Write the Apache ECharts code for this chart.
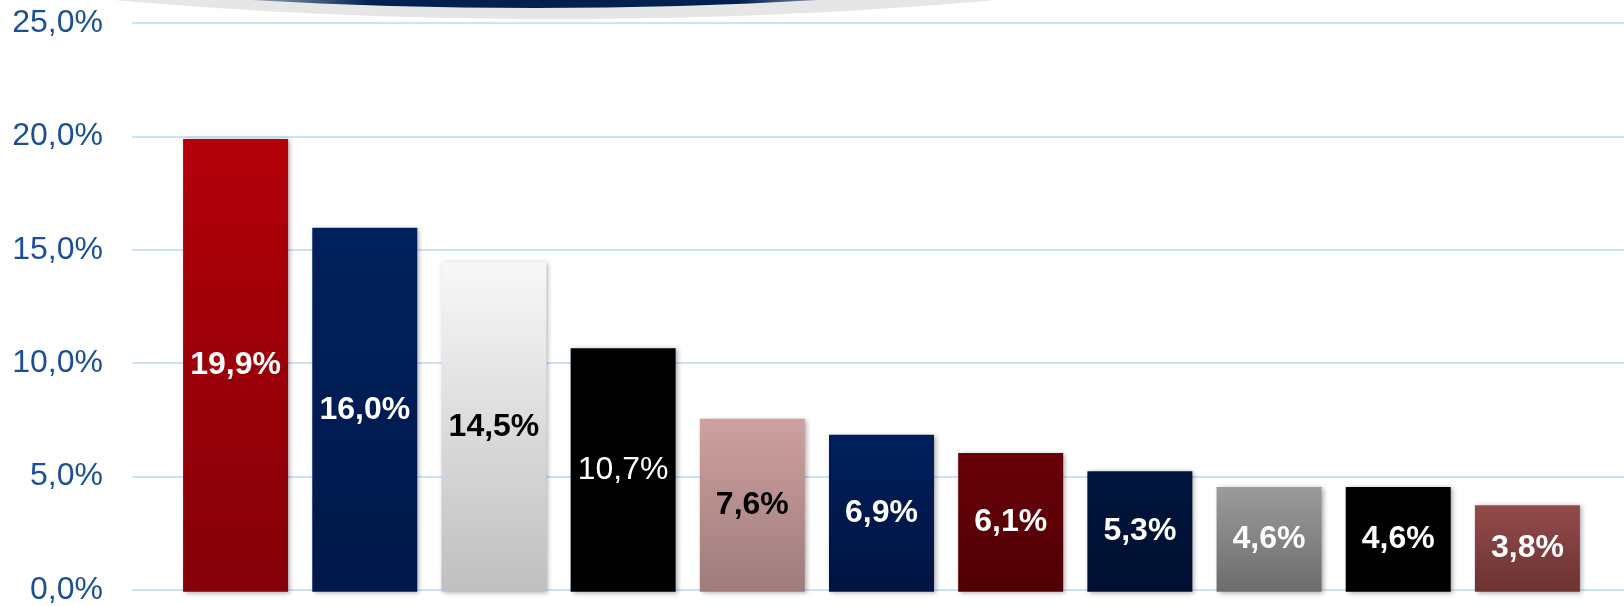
<!DOCTYPE html>
<html>
<head>
<meta charset="utf-8">
<script src="https://cdn.jsdelivr.net/npm/echarts@6/dist/echarts.min.js"></script>
<style>
    html, body { margin: 0; padding: 0; background: #fff; }
    #chart { width: 1624px; height: 606px; }
</style>
</head>
<body>
<div id="chart"></div>
<script>
// categories are not labelled in the picture
const categories = ['1', '2', '3', '4', '5', '6', '7', '8', '9', '10', '11']
const shares = [19.9, 16.0, 14.5, 10.7, 7.6, 6.9, 6.1, 5.3, 4.6, 4.6, 3.8]
const yTicks = [0, 5, 10, 15, 20, 25]

// styling per bar (top / bottom of gradient, label colour, bold or not)
const topColors = ['#b4000a', '#00215d', '#f8f8f8', '#000000', '#cfa09f', '#001f5b', '#6b0008', '#00163f', '#9b9b9b', '#000000', '#934b4b']
const bottomColors = ['#840008', '#00184a', '#bfbfbf', '#000000', '#9e7c7c', '#001442', '#4e0005', '#000f30', '#6c6c6c', '#000000', '#6d3232']
const labelColors = ['#fff', '#fff', '#000', '#fff', '#000', '#fff', '#fff', '#fff', '#fff', '#fff', '#fff']
const labelWeights = ['bold', 'bold', 'bold', 'normal', 'bold', 'bold', 'bold', 'bold', 'bold', 'bold', 'bold']

const fmt = v => v.toFixed(1).replace('.', ',') + '%'

const barData = shares.map((v, i) => ({
    value: v,
    itemStyle: {
        color: new echarts.graphic.LinearGradient(0, 0, 0, 1, [
            { offset: 0, color: topColors[i] },
            { offset: 1, color: bottomColors[i] }
        ])
    },
    label: { color: labelColors[i], fontWeight: labelWeights[i] }
}))

const chart = echarts.init(document.getElementById('chart'))
chart.setOption({
    animation: false,
    backgroundColor: '#fff',
    textStyle: { fontFamily: 'Liberation Sans, Arial, sans-serif' },
    graphic: [
        {
            type: 'ellipse',
            shape: { cx: 555, cy: -200, rx: 1081, ry: 219 },
            style: { fill: '#e6e6e6' },
            z: -10
        },
        {
            type: 'ellipse',
            shape: { cx: 535, cy: -200, rx: 1027, ry: 208 },
            style: {
                fill: new echarts.graphic.LinearGradient(0, 0, 1, 0, [
                    { offset: 0.33, color: '#e6e6e6' },
                    { offset: 0.42, color: '#00214f' },
                    { offset: 0.6, color: '#00214f' },
                    { offset: 0.67, color: '#e6e6e6' }
                ])
            },
            z: -9
        }
    ],
    grid: [
        { left: 132, right: 0, top: 23, bottom: 14.25 },
        { left: 171, right: 32, top: 23, bottom: 14.25 }
    ],
    xAxis: [
        { gridIndex: 0, type: 'value', show: false, min: 0, max: 1 },
        {
            gridIndex: 1,
            type: 'category',
            data: categories,
            axisLine: { show: false },
            axisTick: { show: false },
            axisLabel: { show: false }
        }
    ],
    yAxis: [
        {
            gridIndex: 0,
            type: 'value',
            min: yTicks[0],
            max: yTicks[yTicks.length - 1],
            interval: 5,
            axisLine: { show: false },
            axisTick: { show: false },
            axisLabel: {
                formatter: fmt,
                color: '#1b4f98',
                fontSize: 32,
                margin: 29,
                fontFamily: 'Liberation Sans, Arial, sans-serif'
            },
            splitLine: { lineStyle: { color: '#cde1f8', width: 2 } }
        },
        {
            gridIndex: 1,
            type: 'value',
            min: yTicks[0],
            max: yTicks[yTicks.length - 1],
            show: false
        }
    ],
    series: [
        {
            type: 'bar',
            xAxisIndex: 1,
            yAxisIndex: 1,
            barWidth: 105,
            data: barData,
            itemStyle: {
                shadowColor: 'rgba(0,0,0,0.35)',
                shadowBlur: 5,
                shadowOffsetX: 2,
                shadowOffsetY: 1
            },
            label: {
                show: true,
                position: 'inside',
                formatter: p => fmt(p.value),
                fontSize: 32,
                fontFamily: 'Liberation Sans, Arial, sans-serif'
            }
        }
    ]
})
window.addEventListener('resize', () => {
    chart.resize()
})
</script>
</body>
</html>
